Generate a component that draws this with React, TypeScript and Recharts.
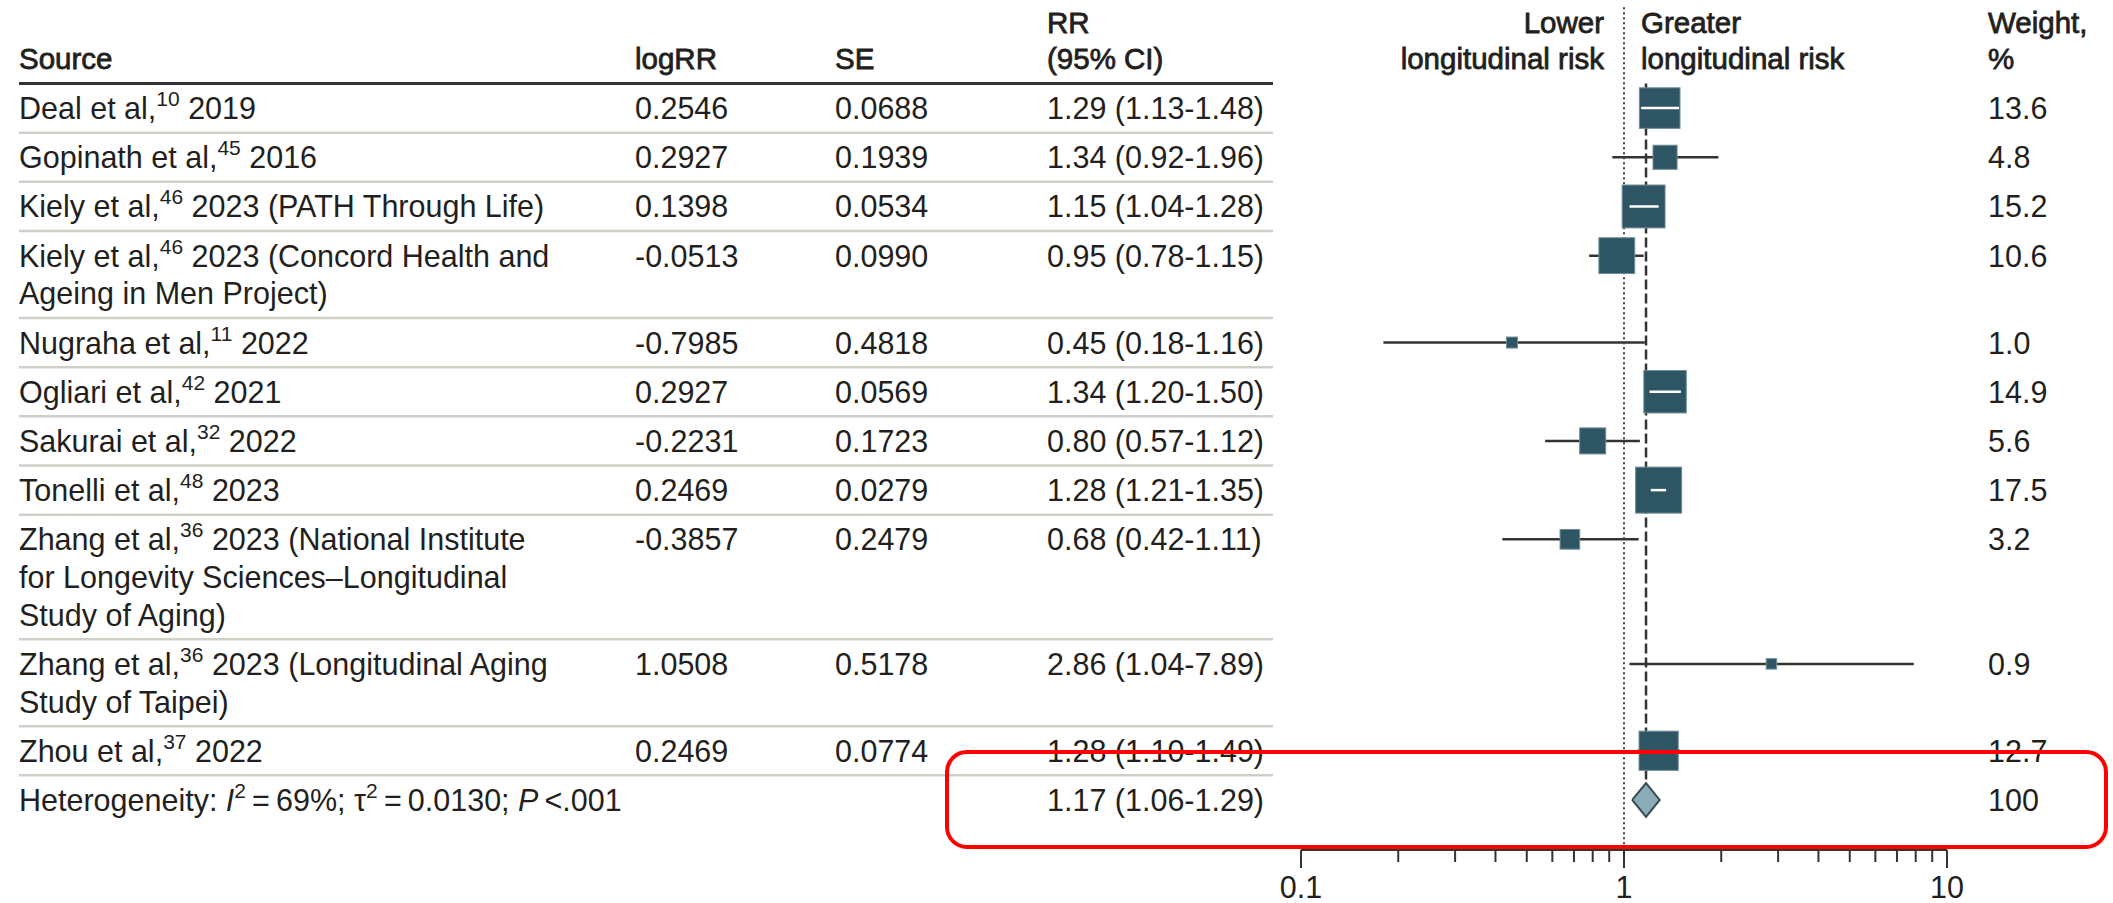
import React from "react";
import { ComposedChart, Scatter, XAxis, YAxis, ErrorBar } from "recharts";

const W = 2113;
const H = 903;
const FONT = '"Liberation Sans", Arial, sans-serif';
const INK = "#231f20";

// study rows (text lines, ^..^ marks a superscript reference)
const sources: string[][] = [
  ["Deal et al,^10^ 2019"],
  ["Gopinath et al,^45^ 2016"],
  ["Kiely et al,^46^ 2023 (PATH Through Life)"],
  ["Kiely et al,^46^ 2023 (Concord Health and", "Ageing in Men Project)"],
  ["Nugraha et al,^11^ 2022"],
  ["Ogliari et al,^42^ 2021"],
  ["Sakurai et al,^32^ 2022"],
  ["Tonelli et al,^48^ 2023"],
  ["Zhang et al,^36^ 2023 (National Institute", "for Longevity Sciences\u2013Longitudinal", "Study of Aging)"],
  ["Zhang et al,^36^ 2023 (Longitudinal Aging", "Study of Taipei)"],
  ["Zhou et al,^37^ 2022"],
];
const logRR = ["0.2546", "0.2927", "0.1398", "-0.0513", "-0.7985", "0.2927", "-0.2231", "0.2469", "-0.3857", "1.0508", "0.2469"];
const se = ["0.0688", "0.1939", "0.0534", "0.0990", "0.4818", "0.0569", "0.1723", "0.0279", "0.2479", "0.5178", "0.0774"];
const rr = [1.29, 1.34, 1.15, 0.95, 0.45, 1.34, 0.8, 1.28, 0.68, 2.86, 1.28];
const ciLow = [1.13, 0.92, 1.04, 0.78, 0.18, 1.2, 0.57, 1.21, 0.42, 1.04, 1.1];
const ciHigh = [1.48, 1.96, 1.28, 1.15, 1.16, 1.5, 1.12, 1.35, 1.11, 7.89, 1.49];
const weight = [13.6, 4.8, 15.2, 10.6, 1.0, 14.9, 5.6, 17.5, 3.2, 0.9, 12.7];
// CI drawn white when it fits inside the square
const ciInsideBox = [true, false, true, false, false, true, false, true, false, false, false];

const pooled = { rr: 1.17, lo: 1.06, hi: 1.29, weight: "100" };

const majorTicks = [0.1, 1, 10];
const allTicks = [0.1, 0.2, 0.3, 0.4, 0.5, 0.6, 0.7, 0.8, 0.9, 1, 2, 3, 4, 5, 6, 7, 8, 9, 10];

// vertical layout in text-line units
const HEADER_Y = 2.215;
const ROW_PAD = 0.305;
const Y_MAX = 22.55;
const DIAMOND_H = 0.45;

const rowTop: number[] = [];
let cursor = HEADER_Y;
sources.forEach((lines) => {
  rowTop.push(cursor);
  cursor += lines.length + ROW_PAD;
});
const pooledTop = cursor;
const firstLine = (top: number) => top + (1 + ROW_PAD) / 2;
const pooledY = firstLine(pooledTop);

const fmtCI = (a: number, b: number, c: number) => `${a.toFixed(2)} (${b.toFixed(2)}-${c.toFixed(2)})`;

const studies = sources.map((_, i) => ({
  x: rr[i],
  y: firstLine(rowTop[i]),
  err: [rr[i] - ciLow[i], ciHigh[i] - rr[i]],
  weight: weight[i],
}));
const whiteCI = studies
  .map((s, i) => [{ x: ciLow[i], y: s.y }, { x: ciHigh[i], y: s.y }])
  .filter((_, i) => ciInsideBox[i]);

const textLines: any[] = [];
sources.forEach((lines, i) => {
  lines.forEach((t, j) => {
    textLines.push({ x: 1, y: firstLine(rowTop[i]) + j, text: t, row: j === 0 ? i : -1 });
  });
});
textLines.push({ x: 1, y: pooledY, pooled: true, row: -1 });

const separators = [
  { x: 1, y: HEADER_Y, head: true },
  ...rowTop.map((t, i) => ({ x: 1, y: t + sources[i].length + ROW_PAD, head: false })),
];

const dottedLine = [{ x: 1, y: 0.19 }, { x: 1, y: Y_MAX }];
const dashedLine = [{ x: pooled.rr, y: HEADER_Y }, { x: pooled.rr, y: pooledY - DIAMOND_H }];
const diamond = [
  { x: pooled.lo, y: pooledY },
  { x: pooled.rr, y: pooledY - DIAMOND_H },
  { x: pooled.hi, y: pooledY },
  { x: pooled.rr, y: pooledY + DIAMOND_H },
  { x: pooled.lo, y: pooledY },
];

const COL = { source: 19, logRR: 635, se: 835, rr: 1047, weight: 1988 };

function rich(s: string) {
  const parts = s.split("^");
  return parts.map((p, k) =>
    k % 2 === 1 ? (
      <tspan key={k} fontSize={21} dy={-10}>{p}</tspan>
    ) : (
      <tspan key={k} dy={k > 0 ? 10 : 0}>{p}</tspan>
    )
  );
}

const txt = { fontFamily: FONT, fontSize: 30.5, fill: INK, dominantBaseline: "central" as const, style: { whiteSpace: "pre" as const } };

function RowText(props: any) {
  const { cy, payload } = props;
  if (payload.pooled) {
    return (
      <g>
        <text x={COL.source} y={cy} {...txt}>
          <tspan>Heterogeneity: </tspan>
          <tspan fontStyle="italic">I</tspan>
          <tspan fontSize={21} dy={-10}>2</tspan>
          <tspan dy={10}>{"\u2009=\u200969%; \u03c4"}</tspan>
          <tspan fontSize={21} dy={-10}>2</tspan>
          <tspan dy={10}>{"\u2009=\u20090.0130; "}</tspan>
          <tspan fontStyle="italic">P</tspan>
          <tspan>{"\u2009<.001"}</tspan>
        </text>
        <text x={COL.rr} y={cy} {...txt}>{fmtCI(pooled.rr, pooled.lo, pooled.hi)}</text>
        <text x={COL.weight} y={cy} {...txt}>{pooled.weight}</text>
      </g>
    );
  }
  const i = payload.row;
  return (
    <g>
      <text x={COL.source} y={cy} {...txt}>{rich(payload.text)}</text>
      {i >= 0 && (
        <>
          <text x={COL.logRR} y={cy} {...txt}>{logRR[i]}</text>
          <text x={COL.se} y={cy} {...txt}>{se[i]}</text>
          <text x={COL.rr} y={cy} {...txt}>{fmtCI(rr[i], ciLow[i], ciHigh[i])}</text>
          <text x={COL.weight} y={cy} {...txt}>{weight[i].toFixed(1)}</text>
        </>
      )}
    </g>
  );
}

function SepLine(props: any) {
  const { cy, payload } = props;
  return (
    <line
      x1={COL.source}
      x2={1273}
      y1={cy}
      y2={cy}
      stroke={payload.head ? "#333" : "#cfcfc7"}
      strokeWidth={payload.head ? 3 : 2.5}
    />
  );
}

function Box(props: any) {
  const { cx, cy, payload } = props;
  const s = 11 * Math.sqrt(payload.weight);
  return <rect x={cx - s / 2} y={cy - s / 2} width={s} height={s} fill="#2e5563" stroke="#6f8d97" strokeWidth={1} />;
}

const Nothing = () => <g />;

function AxisTick(props: any) {
  const { x, y, payload } = props;
  const major = majorTicks.includes(payload.value);
  return (
    <g>
      <line x1={x} x2={x} y1={y} y2={y + (major ? 18 : 12)} stroke="#333" strokeWidth={2} />
      {major && (
        <text x={x} y={y + 37} textAnchor="middle" {...txt}>
          {String(payload.value)}
        </text>
      )}
    </g>
  );
}

const head = { ...txt, fontSize: 29.5, stroke: INK, strokeWidth: 0.8 };

export default function App() {
  return (
    <div style={{ position: "absolute", left: 0, top: 0, width: W, height: H, background: "#fff" }}>
      <ComposedChart width={W} height={H} margin={{ top: 0, right: 166, bottom: 0, left: 1301 }}>
        <XAxis
          dataKey="x"
          type="number"
          scale="log"
          domain={[0.1, 10]}
          ticks={allTicks}
          interval={0}
          tick={<AxisTick />}
          tickLine={false}
          tickSize={0}
          tickMargin={0}
          axisLine={{ stroke: "#333", strokeWidth: 2 }}
          height={53}
        />
        <YAxis dataKey="y" type="number" domain={[0, Y_MAX]} reversed hide width={0} />
        <Scatter data={separators} shape={SepLine} isAnimationActive={false} />
        <Scatter data={textLines} shape={RowText} isAnimationActive={false} />
        <Scatter
          data={dottedLine}
          shape={Nothing}
          line={{ stroke: "#444", strokeWidth: 2, strokeDasharray: "2 3" }}
          isAnimationActive={false}
        />
        <Scatter
          data={dashedLine}
          shape={Nothing}
          line={{ stroke: "#333", strokeWidth: 2.5, strokeDasharray: "10 4" }}
          isAnimationActive={false}
        />
        <Scatter data={studies} shape={Box} isAnimationActive={false}>
          <ErrorBar dataKey="err" direction="x" width={0} stroke="#333" strokeWidth={2.5} isAnimationActive={false} />
        </Scatter>
        {whiteCI.map((seg, k) => (
          <Scatter
            key={k}
            data={seg}
            shape={Nothing}
            line={{ stroke: "#fff", strokeWidth: 2.5 }}
            isAnimationActive={false}
          />
        ))}
        <Scatter
          data={diamond}
          shape={Nothing}
          line={{ stroke: "#3d4b51", strokeWidth: 2, fill: "#8aabb8", strokeLinejoin: "miter" }}
          isAnimationActive={false}
        />
      </ComposedChart>
      <svg width={W} height={H} style={{ position: "absolute", left: 0, top: 0, pointerEvents: "none" }}>
        <text x={COL.source} y={58} {...head}>Source</text>
        <text x={COL.logRR} y={58} {...head}>logRR</text>
        <text x={COL.se} y={58} {...head}>SE</text>
        <text x={COL.rr} y={22} {...head}>RR</text>
        <text x={COL.rr} y={58} {...head}>(95% CI)</text>
        <text x={1604} y={22} textAnchor="end" {...head}>Lower</text>
        <text x={1604} y={58} textAnchor="end" {...head}>longitudinal risk</text>
        <text x={1641} y={22} {...head}>Greater</text>
        <text x={1641} y={58} {...head}>longitudinal risk</text>
        <text x={COL.weight} y={22} {...head}>Weight,</text>
        <text x={COL.weight} y={58} {...head}>%</text>
        <rect x={947} y={752} width={1159} height={95} rx={20} fill="none" stroke="#ff0000" strokeWidth={4} />
      </svg>
    </div>
  );
}
